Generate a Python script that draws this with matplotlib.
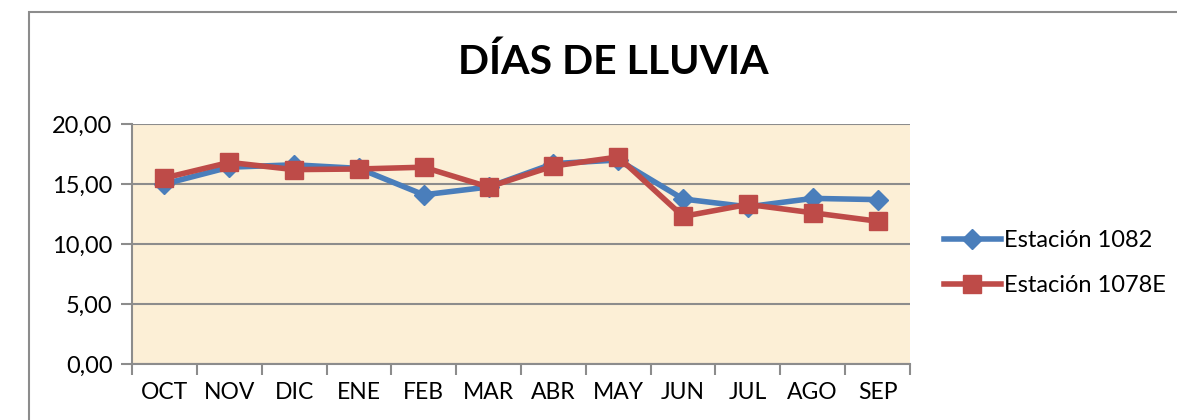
import matplotlib.pyplot as plt
from matplotlib.patches import Rectangle
from matplotlib.ticker import FixedLocator, FuncFormatter

plt.rcParams['font.family'] = ['Lato', 'DejaVu Sans']

meses = ['OCT', 'NOV', 'DIC', 'ENE', 'FEB', 'MAR', 'ABR', 'MAY', 'JUN', 'JUL', 'AGO', 'SEP']
est_1082 = [15.0, 16.4, 16.6, 16.3, 14.1, 14.75, 16.7, 17.0, 13.75, 13.1, 13.8, 13.7]
est_1078e = [15.5, 16.8, 16.2, 16.25, 16.4, 14.75, 16.5, 17.25, 12.3, 13.3, 12.6, 11.9]

fig = plt.figure(figsize=(11.77, 4.2), dpi=100)

# chart frame
fig.patches.append(Rectangle((29 / 1177, -0.05), 1.2, (420 - 12) / 420 + 0.05,
                             transform=fig.transFigure, fill=False,
                             edgecolor='#8c8c8c', linewidth=1.5))

ax = fig.add_axes([132 / 1177, (420 - 364) / 420, (910 - 132) / 1177, (364 - 124) / 420])
ax.set_facecolor('#fcefd6')

x = list(range(len(meses)))
ax.plot(x, est_1082, color='#4a7ebb', linewidth=4, marker='D', markersize=10,
        label='Estación 1082', zorder=3)
ax.plot(x, est_1078e, color='#be4b48', linewidth=4, marker='s', markersize=13,
        label='Estación 1078E', zorder=4)

ax.set_xlim(-0.5, len(meses) - 0.5)
ax.set_ylim(0, 20)
ax.set_yticks([0, 5, 10, 15, 20])
ax.yaxis.set_major_formatter(FuncFormatter(lambda v, p: f'{v:.2f}'.replace('.', ',')))
ax.set_xticks(x)
ax.set_xticklabels(meses)
ax.xaxis.set_minor_locator(FixedLocator([i - 0.5 for i in range(len(meses) + 1)]))
ax.tick_params(axis='x', which='major', length=0, pad=13, labelsize=16.5)
ax.tick_params(axis='x', which='minor', length=8, width=1.5, color='#8c8c8c')
ax.tick_params(axis='y', length=8, width=1.5, color='#8c8c8c', labelsize=17, pad=6)
ax.grid(axis='y', color='#8c8c8c', linewidth=1.5)
ax.set_axisbelow(True)
for side in ['top', 'right']:
    ax.spines[side].set_visible(False)
for side in ['left', 'bottom']:
    ax.spines[side].set_color('#8c8c8c')
    ax.spines[side].set_linewidth(1.5)

fig.text(613 / 1177, 1 - 62 / 420, 'DÍAS DE LLUVIA', ha='center', va='center',
         fontsize=29.5, fontweight='bold')

fig.legend(loc='center left', bbox_to_anchor=(944 / 1177, 1 - 263 / 420),
           frameon=False, fontsize=17, handlelength=2.4, labelspacing=1.0,
           handletextpad=0.15, borderpad=0, borderaxespad=0)

fig.savefig('out.png', dpi=100)
